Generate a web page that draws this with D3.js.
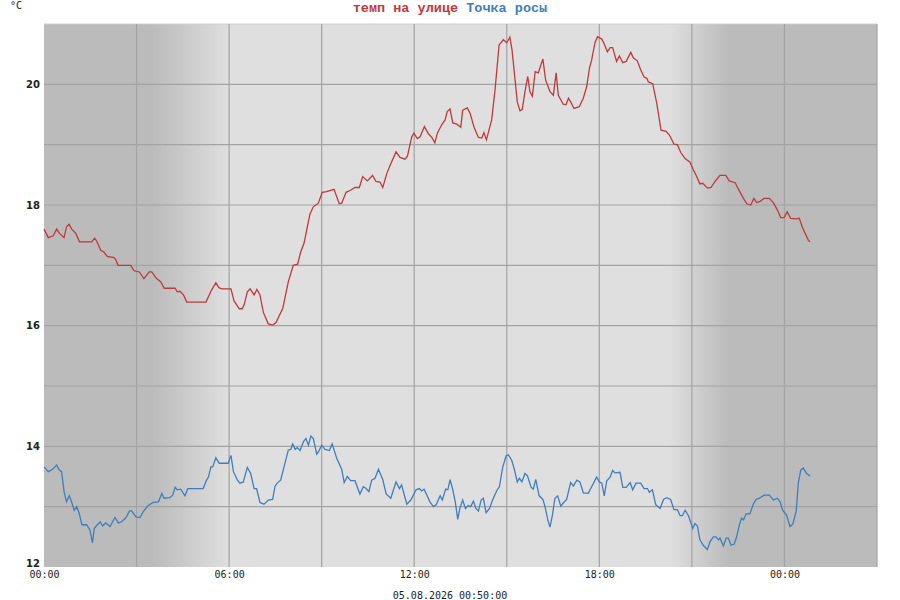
<!DOCTYPE html>
<html>
<head>
<meta charset="utf-8">
<script src="https://cdn.jsdelivr.net/npm/d3@7"></script>
<style>
  body { margin: 0; background: #fff; }
  svg { display: block; }
</style>
</head>
<body>
<script>
// hours from 04.08.2026 00:00
var tempHours = [0.00,0.14,0.30,0.41,0.50,0.65,0.73,0.81,0.90,1.03,1.15,1.55,1.64,1.71,1.84,1.94,2.05,2.27,2.33,2.40,2.81,2.92,3.09,3.24,3.41,3.49,3.65,3.78,3.90,4.25,4.32,4.41,4.52,4.63,5.25,5.43,5.57,5.67,5.76,6.06,6.16,6.33,6.42,6.49,6.59,6.68,6.81,6.90,7.00,7.11,7.27,7.41,7.52,7.74,7.92,8.08,8.22,8.32,8.43,8.62,8.73,8.89,9.02,9.16,9.40,9.57,9.65,9.79,9.92,10.08,10.22,10.33,10.48,10.65,10.76,10.89,10.98,11.11,11.22,11.41,11.54,11.70,11.78,11.92,11.99,12.10,12.19,12.33,12.46,12.57,12.67,12.75,12.89,13.00,13.07,13.16,13.25,13.38,13.51,13.57,13.72,13.81,13.94,14.08,14.19,14.26,14.34,14.51,14.62,14.75,14.89,15.00,15.10,15.17,15.27,15.34,15.43,15.50,15.59,15.68,15.75,15.83,15.92,16.02,16.17,16.26,16.40,16.51,16.60,16.67,16.83,16.92,17.00,17.07,17.18,17.35,17.48,17.59,17.68,17.75,17.86,17.94,18.08,18.15,18.26,18.35,18.43,18.56,18.65,18.76,18.87,19.02,19.10,19.23,19.34,19.45,19.54,19.59,19.73,19.86,20.00,20.16,20.27,20.42,20.53,20.64,20.78,20.94,21.05,21.13,21.26,21.35,21.51,21.62,21.75,21.91,22.10,22.21,22.40,22.51,22.67,22.78,22.91,23.01,23.10,23.21,23.34,23.51,23.64,23.77,23.88,23.99,24.09,24.20,24.38,24.48,24.59,24.78,24.83];
var tempValues = [17.60,17.46,17.49,17.60,17.53,17.46,17.64,17.68,17.60,17.53,17.39,17.39,17.45,17.40,17.25,17.22,17.15,17.13,17.09,17.00,17.00,16.91,16.89,16.78,16.89,16.89,16.78,16.73,16.62,16.62,16.56,16.57,16.51,16.39,16.39,16.59,16.71,16.63,16.61,16.61,16.41,16.28,16.28,16.35,16.56,16.61,16.51,16.60,16.51,16.22,16.03,16.01,16.05,16.29,16.73,17.00,17.02,17.22,17.37,17.85,17.97,18.03,18.21,18.22,18.26,18.02,18.03,18.21,18.24,18.29,18.29,18.47,18.40,18.49,18.39,18.38,18.29,18.52,18.66,18.88,18.79,18.76,18.81,19.13,19.19,19.10,19.13,19.30,19.18,19.12,19.03,19.19,19.33,19.41,19.55,19.59,19.36,19.34,19.29,19.57,19.61,19.52,19.29,19.12,19.11,19.20,19.08,19.41,19.91,20.65,20.74,20.69,20.78,20.57,20.07,19.71,19.56,19.58,19.88,20.13,19.88,19.80,20.21,20.19,20.42,20.07,19.88,19.82,20.19,19.82,19.67,19.66,19.77,19.71,19.60,19.63,19.77,19.96,20.27,20.40,20.69,20.79,20.75,20.68,20.54,20.61,20.61,20.38,20.47,20.36,20.38,20.53,20.44,20.39,20.24,20.12,20.10,20.04,20.01,19.69,19.24,19.22,19.16,19.01,19.00,18.87,18.77,18.71,18.58,18.50,18.35,18.36,18.28,18.29,18.39,18.49,18.49,18.40,18.37,18.26,18.11,18.02,18.00,18.11,18.04,18.06,18.11,18.11,18.04,17.92,17.79,17.79,17.89,17.78,17.77,17.78,17.62,17.41,17.39];

var dewHours = [0.00,0.14,0.28,0.41,0.49,0.57,0.65,0.73,0.82,0.90,0.98,1.06,1.14,1.23,1.38,1.49,1.57,1.63,1.73,1.82,1.90,2.00,2.14,2.30,2.41,2.52,2.66,2.77,2.84,2.98,3.11,3.22,3.38,3.54,3.71,3.82,3.89,4.08,4.17,4.25,4.32,4.43,4.57,4.66,5.16,5.27,5.33,5.41,5.47,5.57,5.68,5.97,6.06,6.14,6.27,6.35,6.46,6.59,6.70,6.81,6.89,7.00,7.13,7.27,7.41,7.49,7.56,7.67,7.92,8.00,8.06,8.14,8.21,8.30,8.41,8.49,8.57,8.65,8.73,8.84,8.90,9.00,9.11,9.25,9.34,9.49,9.65,9.73,9.83,9.94,10.08,10.24,10.35,10.44,10.53,10.62,10.73,10.84,10.98,11.09,11.24,11.41,11.52,11.59,11.76,11.89,12.06,12.17,12.24,12.32,12.51,12.62,12.71,12.84,12.91,13.02,13.09,13.16,13.25,13.33,13.41,13.48,13.57,13.66,13.75,13.83,13.92,14.00,14.08,14.17,14.24,14.33,14.44,14.54,14.69,14.76,14.87,14.98,15.05,15.16,15.25,15.34,15.41,15.49,15.59,15.67,15.79,15.86,15.94,16.05,16.17,16.24,16.33,16.40,16.48,16.56,16.65,16.75,16.83,16.94,17.07,17.16,17.27,17.37,17.48,17.64,17.78,17.91,18.00,18.08,18.16,18.24,18.35,18.43,18.51,18.67,18.76,18.87,19.00,19.08,19.19,19.34,19.45,19.56,19.62,19.72,19.83,19.97,20.08,20.18,20.31,20.42,20.53,20.62,20.69,20.78,20.89,21.03,21.10,21.18,21.26,21.37,21.50,21.59,21.70,21.78,21.86,21.91,22.02,22.11,22.18,22.27,22.37,22.45,22.54,22.61,22.67,22.76,22.88,22.99,23.08,23.19,23.34,23.51,23.64,23.77,23.86,23.94,24.07,24.18,24.27,24.38,24.45,24.53,24.61,24.72,24.83];
var dewValues = [13.66,13.58,13.62,13.69,13.61,13.58,13.25,13.08,13.18,13.07,12.94,13.00,12.89,12.70,12.70,12.61,12.40,12.64,12.70,12.75,12.68,12.73,12.67,12.82,12.73,12.75,12.82,12.93,12.93,12.83,12.82,12.92,13.02,13.07,13.08,13.22,13.14,13.15,13.19,13.32,13.28,13.29,13.18,13.30,13.30,13.44,13.49,13.66,13.66,13.81,13.72,13.72,13.85,13.58,13.44,13.39,13.41,13.65,13.55,13.30,13.30,13.07,13.04,13.11,13.12,13.34,13.39,13.44,13.94,13.95,14.04,13.95,13.98,13.93,14.08,14.13,14.02,14.17,14.13,13.87,13.91,14.02,13.95,13.93,14.04,13.80,13.62,13.40,13.50,13.43,13.43,13.21,13.33,13.30,13.25,13.44,13.47,13.62,13.45,13.21,13.14,13.41,13.30,13.36,13.04,13.11,13.28,13.30,13.26,13.29,13.08,13.00,13.03,13.18,13.11,13.29,13.28,13.45,13.28,13.08,12.79,12.97,13.11,12.97,13.02,13.00,13.09,12.97,12.93,13.11,13.14,12.90,12.97,13.11,13.28,13.33,13.66,13.84,13.86,13.77,13.61,13.41,13.47,13.41,13.55,13.51,13.32,13.29,13.45,13.18,13.12,13.00,12.78,12.66,12.86,13.14,13.18,13.01,13.06,13.12,13.40,13.34,13.44,13.41,13.23,13.22,13.36,13.49,13.41,13.39,13.18,13.43,13.49,13.60,13.56,13.57,13.32,13.32,13.40,13.28,13.39,13.39,13.30,13.30,13.24,13.28,13.03,12.97,13.12,13.15,13.12,12.95,12.95,12.85,12.85,12.94,12.85,12.64,12.72,12.68,12.45,12.36,12.29,12.42,12.50,12.50,12.45,12.48,12.35,12.48,12.48,12.36,12.38,12.50,12.70,12.81,12.78,12.88,12.88,13.04,13.12,13.14,13.19,13.19,13.11,13.14,13.08,12.94,12.86,12.67,12.71,12.92,13.39,13.61,13.64,13.55,13.51];

var seriesNames = ["темп на улице", "Точка росы"];
var seriesColors = ["#bf3a3a", "#3d7fbd"];
var yTicks = [12, 14, 16, 18, 20];
// night -> day -> night shading (hours)
var shadeHours = [3.5, 6.0, 20.3, 22.2];
var stampLabel = "05.08.2026 00:50:00";

var width = 900, height = 600;
var margin = {top: 24, right: 23, bottom: 33, left: 44};
var t0 = new Date(2026, 7, 4, 0, 0);
var t1 = new Date(2026, 7, 5, 3, 0);
function toDate(h) { return new Date(t0.getTime() + h * 3600000); }

var svg = d3.select("body").append("svg")
    .attr("width", width)
    .attr("height", height);

var x = d3.scaleTime().domain([t0, t1]).range([margin.left, width - margin.right]);
var y = d3.scaleLinear().domain([12, 21]).range([height - margin.bottom, margin.top]);

var defs = svg.append("defs");
var grad = defs.append("linearGradient")
    .attr("id", "daylight")
    .attr("gradientUnits", "userSpaceOnUse")
    .attr("x1", x.range()[0]).attr("x2", x.range()[1])
    .attr("y1", 0).attr("y2", 0);
var span = x.range()[1] - x.range()[0];
var stopColors = ["#bbbbbb", "#dfdfdf", "#dfdfdf", "#bbbbbb"];
grad.selectAll("stop")
    .data(shadeHours)
    .enter().append("stop")
    .attr("offset", function(d) { return (x(toDate(d)) - x.range()[0]) / span; })
    .attr("stop-color", function(d, i) { return stopColors[i]; });

svg.append("rect")
    .attr("x", x.range()[0])
    .attr("y", y.range()[1])
    .attr("width", span)
    .attr("height", y.range()[0] - y.range()[1])
    .style("fill", "url(#daylight)");

// grid
svg.append("g")
    .selectAll("line")
    .data(d3.range(13, 22))
    .enter().append("line")
    .attr("x1", x.range()[0]).attr("x2", x.range()[1])
    .attr("y1", function(d) { return y(d); })
    .attr("y2", function(d) { return y(d); })
    .style("stroke", function(d) { return d == 21 ? "#cfcfcf" : "#a3a3a3"; })
    .style("stroke-width", 1.2);

svg.append("g")
    .selectAll("line")
    .data(x.ticks(d3.timeHour.every(3)).slice(1))
    .enter().append("line")
    .attr("x1", function(d) { return x(d); })
    .attr("x2", function(d) { return x(d); })
    .attr("y1", y.range()[0]).attr("y2", y.range()[1])
    .style("stroke", "#a3a3a3")
    .style("stroke-width", 1.2);

// axes
var xAxis = d3.axisBottom(x)
    .ticks(d3.timeHour.every(6))
    .tickFormat(d3.timeFormat("%H:%M"))
    .tickSize(0)
    .tickPadding(4);
var gx = svg.append("g")
    .attr("transform", "translate(0," + y.range()[0] + ")")
    .call(xAxis);
gx.select(".domain").remove();
gx.selectAll("text")
    .style("font-family", "DejaVu Sans Mono")
    .style("font-size", "10px")
    .style("fill", "#222");
gx.selectAll(".tick").filter(function(d) { return d > toDate(25); }).remove();

var yAxis = d3.axisLeft(y).tickValues(yTicks).tickSize(0).tickPadding(4);
var gy = svg.append("g")
    .attr("transform", "translate(" + x.range()[0] + ",0)")
    .call(yAxis);
gy.select(".domain").remove();
gy.selectAll("text")
    .attr("dy", function(d) { return d == 12 ? "-0.1em" : "0.32em"; })
    .style("font-family", "DejaVu Sans")
    .style("font-weight", "bold")
    .style("font-size", "10px")
    .style("fill", "#222");

// lines
var line = d3.line()
    .x(function(d) { return x(toDate(d[0])); })
    .y(function(d) { return y(d[1]); });

var series = [d3.zip(tempHours, tempValues), d3.zip(dewHours, dewValues)];
svg.append("g")
    .selectAll("path")
    .data(series)
    .enter().append("path")
    .attr("d", line)
    .style("fill", "none")
    .style("stroke", function(d, i) { return seriesColors[i]; })
    .style("stroke-width", 1.3);

// legend / titles
var legend = svg.append("text")
    .attr("x", 450)
    .attr("y", 12)
    .attr("text-anchor", "middle")
    .style("font-family", "Liberation Mono")
    .style("font-weight", "bold")
    .style("font-size", "13.5px");
legend.selectAll("tspan")
    .data(seriesNames)
    .enter().append("tspan")
    .text(function(d, i) { return (i ? " " : "") + d; })
    .style("fill", function(d, i) { return seriesColors[i]; });

svg.append("text")
    .attr("x", 10)
    .attr("y", 9)
    .text("°C")
    .style("font-family", "DejaVu Sans Mono")
    .style("font-size", "10px")
    .style("fill", "#222");

svg.append("text")
    .attr("x", 450)
    .attr("y", 599)
    .attr("text-anchor", "middle")
    .text(stampLabel)
    .style("font-family", "DejaVu Sans Mono")
    .style("font-size", "10px")
    .style("fill", "#222");
</script>
</body>
</html>
